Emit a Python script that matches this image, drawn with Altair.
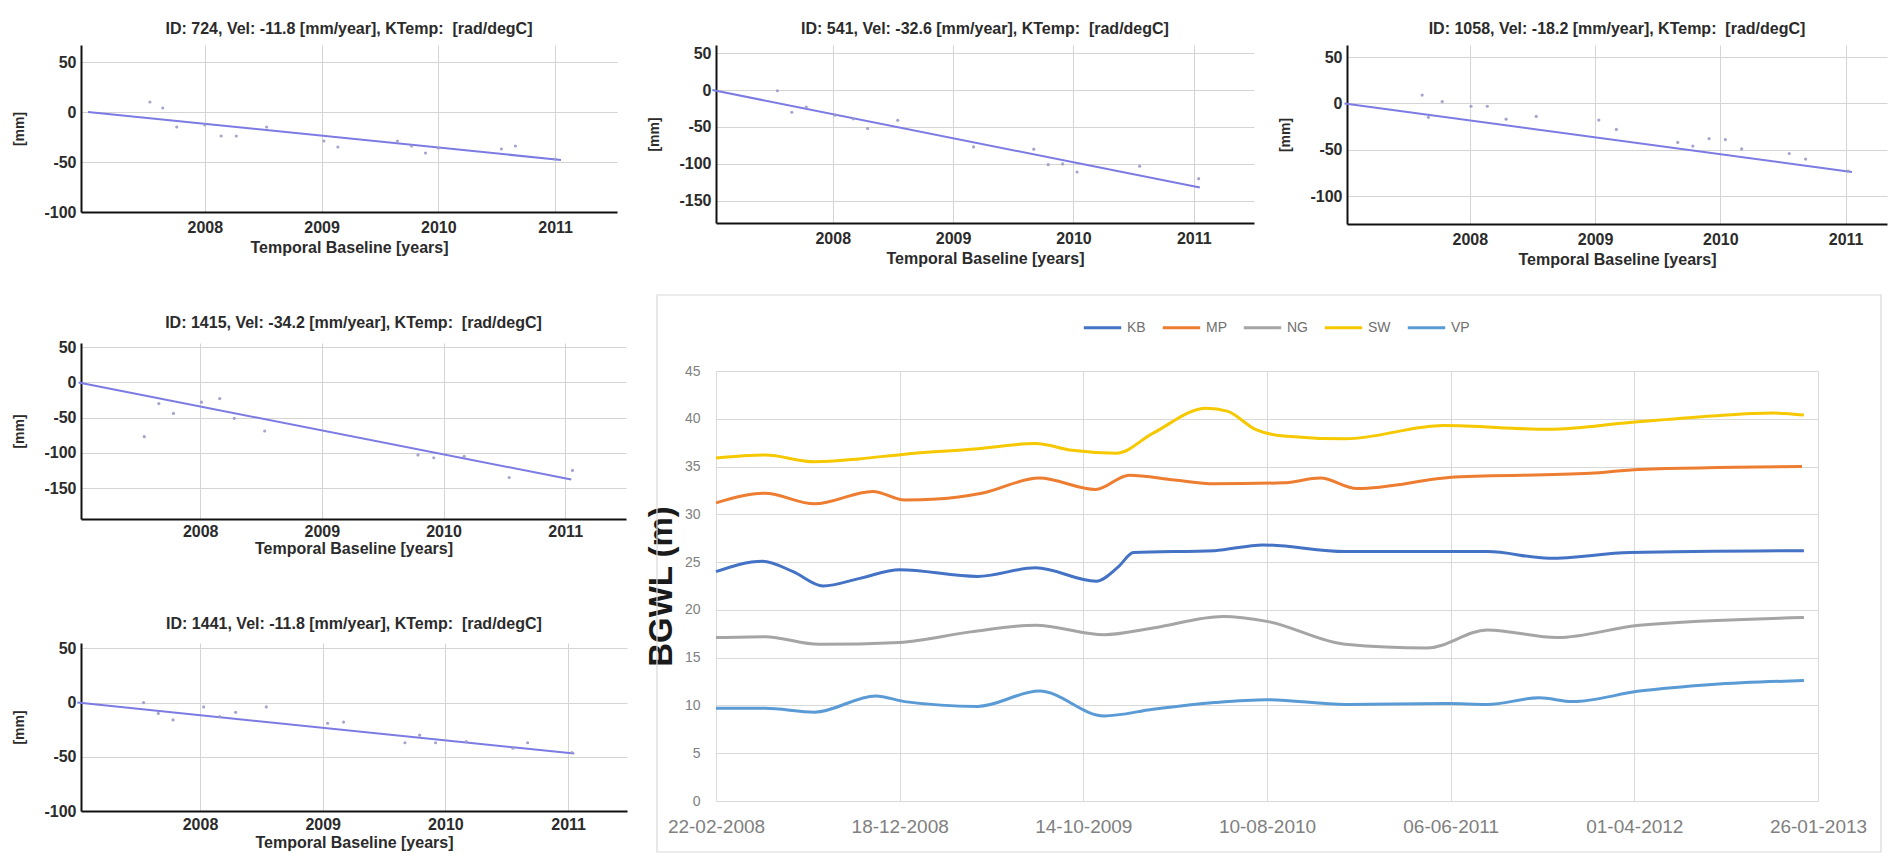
import altair as alt
import pandas as pd

# ---------------- small PS time-series panels ----------------
fit_t = [2007.0, 2011.05]
year_ticks = [2008, 2009, 2010, 2011]

t_724 = [2007.53, 2007.64, 2007.76, 2008.00, 2008.14, 2008.27, 2008.53, 2009.02, 2009.14,
         2009.65, 2009.77, 2009.89, 2010.00, 2010.54, 2010.66, 2011.00]
d_724 = [10, 4, -15, -13, -24, -24, -15, -29, -35, -29, -34, -41, -36, -37, -34, -47]
fit_724 = [0, -48]

t_541 = [2007.54, 2007.66, 2007.78, 2008.02, 2008.17, 2008.29, 2008.54, 2009.17, 2009.67,
         2009.79, 2009.91, 2010.03, 2010.55, 2011.04]
d_541 = [-1, -30, -23, -34, -39, -52, -41, -77, -80, -101, -100, -111, -103, -120]
fit_541 = [0, -132]

t_1058 = [2007.62, 2007.67, 2007.78, 2008.01, 2008.14, 2008.29, 2008.53, 2009.03, 2009.17,
          2009.66, 2009.78, 2009.91, 2010.04, 2010.17, 2010.55, 2010.68, 2011.02]
d_1058 = [9, -15, 2, -3, -3, -17, -14, -18, -28, -42, -46, -38, -39, -49, -54, -60, -73]
fit_1058 = [0, -74]

t_1415 = [2007.54, 2007.66, 2007.78, 2008.01, 2008.16, 2008.28, 2008.53, 2009.79, 2009.92,
          2010.17, 2010.54, 2011.06]
d_1415 = [-77, -30, -44, -28, -23, -51, -69, -103, -107, -105, -135, -125]
fit_1415 = [0, -138]

t_1441 = [2007.54, 2007.66, 2007.78, 2008.03, 2008.16, 2008.29, 2008.54, 2009.04, 2009.17,
          2009.67, 2009.79, 2009.92, 2010.17, 2010.55, 2010.67, 2011.03]
d_1441 = [0, -10, -16, -4, -13, -9, -4, -19, -18, -37, -30, -37, -36, -42, -37, -46]
fit_1441 = [0, -47]

# ---------------- BGWL panel ----------------
wells = ["KB", "MP", "NG", "SW", "VP"]
well_colors = ["#4472C4", "#ED7D31", "#A5A5A5", "#F5C800", "#5B9BD5"]
date_ticks = ["2008-02-22", "2008-12-18", "2009-10-14", "2010-08-10",
              "2011-06-06", "2012-04-01", "2013-01-26"]

kb_dates = ["2008-02-22", "2008-05-08", "2008-06-27", "2008-08-15", "2008-10-14", "2008-12-18",
            "2009-04-24", "2009-07-28", "2009-11-04", "2009-12-10", "2010-01-04", "2010-05-16",
            "2010-08-03", "2010-12-16", "2011-08-05", "2011-11-14", "2012-03-25", "2013-01-03"]
kb_vals = [24.0, 25.1, 24.0, 22.5, 23.3, 24.2, 23.5, 24.4, 23.0, 24.5, 26.0, 26.2,
           26.8, 26.1, 26.1, 25.4, 26.0, 26.2]

mp_dates = ["2008-02-22", "2008-05-12", "2008-08-01", "2008-11-04", "2008-12-26", "2009-02-17",
            "2009-05-01", "2009-08-03", "2009-11-03", "2009-12-28", "2010-03-12", "2010-05-16",
            "2010-09-06", "2010-11-05", "2011-01-04", "2011-06-13", "2012-01-20", "2012-04-09",
            "2012-12-31"]
mp_vals = [31.2, 32.2, 31.1, 32.4, 31.5, 31.6, 32.2, 33.8, 32.6, 34.1, 33.6, 33.2,
           33.3, 33.8, 32.7, 33.9, 34.3, 34.7, 35.0]

ng_dates = ["2008-02-22", "2008-05-12", "2008-08-08", "2008-12-18", "2009-04-13", "2009-07-28",
            "2009-11-17", "2010-02-05", "2010-05-30", "2010-08-10", "2010-12-16", "2011-04-28",
            "2011-08-05", "2011-11-27", "2012-04-09", "2013-01-03"]
ng_vals = [17.1, 17.2, 16.4, 16.6, 17.7, 18.4, 17.4, 18.1, 19.3, 18.8, 16.4, 16.0,
           17.9, 17.1, 18.4, 19.2]

sw_dates = ["2008-02-22", "2008-05-12", "2008-08-01", "2008-10-13", "2008-12-26", "2009-04-13",
            "2009-07-28", "2009-09-26", "2009-12-07", "2010-02-05", "2010-05-03", "2010-06-06",
            "2010-07-22", "2010-09-06", "2010-12-16", "2011-05-25", "2011-11-14", "2012-03-25",
            "2012-08-06", "2012-11-14", "2013-01-03"]
sw_vals = [35.9, 36.2, 35.5, 35.8, 36.3, 36.8, 37.4, 36.7, 36.4, 38.5, 41.1, 40.8,
           38.9, 38.2, 37.9, 39.3, 38.9, 39.6, 40.3, 40.6, 40.4]

vp_dates = ["2008-02-22", "2008-05-12", "2008-08-01", "2008-11-09", "2008-12-26", "2009-04-24",
            "2009-08-03", "2009-11-17", "2010-02-05", "2010-05-16", "2010-08-10", "2010-12-16",
            "2011-05-31", "2011-08-05", "2011-10-29", "2011-12-22", "2012-04-09", "2012-08-06",
            "2013-01-03"]
vp_vals = [9.7, 9.7, 9.3, 11.0, 10.4, 9.9, 11.5, 8.9, 9.6, 10.3, 10.6, 10.1,
           10.2, 10.1, 10.8, 10.4, 11.5, 12.2, 12.6]

TXT = "#2b2b2b"


def small_panel(title, t, d, fit, xdom, ydom, yvals, width, height, lab_pad=7, tit_pad=4):
    pts = pd.DataFrame({"t": t, "d": d})
    fit_df = pd.DataFrame({"t": fit_t, "d": fit})
    x = alt.X("t:Q", scale=alt.Scale(domain=xdom, nice=False, zero=False),
              axis=alt.Axis(values=year_ticks, format="d", title="Temporal Baseline [years]",
                            labelFontSize=16, labelFontWeight="bold", labelColor=TXT,
                            labelPadding=lab_pad, titleFontSize=16, titleFontWeight="bold",
                            titleColor=TXT, titlePadding=tit_pad, ticks=False,
                            domainColor="#111111", domainWidth=2, gridColor="#d4d4d4",
                            labelFlush=False))
    y = alt.Y("d:Q", scale=alt.Scale(domain=ydom, nice=False, zero=False),
              axis=alt.Axis(values=yvals, title="[mm]", labelFontSize=16, labelFontWeight="bold",
                            labelExpr="'' + datum.value",
                            labelColor=TXT, labelPadding=5, titleFontSize=14,
                            titleFontWeight="bold", titleColor=TXT, titlePadding=18,
                            minExtent=37, maxExtent=37, ticks=False, domainColor="#111111",
                            domainWidth=2, gridColor="#d4d4d4", labelFlush=False))
    line = alt.Chart(fit_df).mark_line(color="#7b7be3", strokeWidth=2).encode(x=x, y=y)
    dots = alt.Chart(pts).mark_point(shape="circle", filled=True, size=10,
                                     color="#9a9ac8", opacity=0.9).encode(x=x, y=y)
    return alt.layer(line, dots).properties(
        width=width, height=height,
        title=alt.TitleParams(text=title, fontSize=16, fontWeight="bold", color=TXT, offset=8))


KT = "KTemp:\u00a0 [rad/degC]"
c1 = small_panel(f"ID: 724, Vel: -11.8 [mm/year], {KT}", t_724, d_724, fit_724,
                 [2006.94, 2011.53], [-100, 67], [-100, -50, 0, 50], 536, 167)
c4 = small_panel(f"ID: 1415, Vel: -34.2 [mm/year], {KT}", t_1415, d_1415, fit_1415,
                 [2007.02, 2011.50], [-194, 56], [-150, -100, -50, 0, 50], 545, 176,
                 lab_pad=4, tit_pad=1)
c5 = small_panel(f"ID: 1441, Vel: -11.8 [mm/year], {KT}", t_1441, d_1441, fit_1441,
                 [2007.03, 2011.48], [-100, 55], [-100, -50, 0, 50], 546, 168,
                 lab_pad=5, tit_pad=2)
c2 = small_panel(f"ID: 541, Vel: -32.6 [mm/year], {KT}", t_541, d_541, fit_541,
                 [2007.03, 2011.50], [-180, 61], [-150, -100, -50, 0, 50], 538, 178)
c3 = small_panel(f"ID: 1058, Vel: -18.2 [mm/year], {KT}", t_1058, d_1058, fit_1058,
                 [2007.02, 2011.33], [-130, 63], [-100, -50, 0, 50], 540, 179)

# big chart
rows = []
for name, ds, vs in [("KB", kb_dates, kb_vals), ("MP", mp_dates, mp_vals),
                     ("NG", ng_dates, ng_vals), ("SW", sw_dates, sw_vals),
                     ("VP", vp_dates, vp_vals)]:
    for dt_s, v in zip(ds, vs):
        rows.append({"date": dt_s, "bgwl": v, "well": name})
bg = pd.DataFrame(rows)


def dt(s):
    y, m, d = (int(p) for p in s.split("-"))
    return alt.DateTime(year=y, month=m, date=d, utc=True)


lines = alt.Chart(bg).mark_line(interpolate="monotone", strokeWidth=3).encode(
    x=alt.X("date:T",
            scale=alt.Scale(type="utc", domain=[dt(date_ticks[0]), dt(date_ticks[-1])]),
            axis=alt.Axis(values=[dt(s) for s in date_ticks], format="%d-%m-%Y", title=None,
                          labelFontSize=19, labelColor="#808080", labelPadding=16,
                          ticks=False, domain=False, gridColor="#d9d9d9",
                          labelOverlap=False, labelFlush=False)),
    y=alt.Y("bgwl:Q", scale=alt.Scale(domain=[0, 45], nice=False),
            axis=alt.Axis(values=list(range(0, 50, 5)), title="BGWL (m)",
                          labelFontSize=14, labelColor="#808080", labelPadding=16,
                          ticks=False, domain=False, gridColor="#d9d9d9",
                          titleFontSize=33, titleFontWeight="bold", titleColor="#1a1a1a",
                          titlePadding=6, minExtent=32, maxExtent=32)),
    color=alt.Color("well:N", scale=alt.Scale(domain=wells, range=well_colors),
                    legend=alt.Legend(orient="none", legendX=366, legendY=-64,
                                      direction="horizontal", title=None,
                                      symbolType="stroke", symbolSize=1400,
                                      symbolStrokeWidth=3, labelFontSize=14,
                                      labelColor="#707070", columnPadding=10,
                                      labelOffset=4, padding=0)),
)

frame = alt.Chart(alt.Data(values=[{"k": 1}])).mark_rect(
    fill="white", fillOpacity=0, stroke="#d9d9d9", strokeWidth=1.2).encode(
    x=alt.value(-59), x2=alt.value(1165), y=alt.value(-76), y2=alt.value(481))

big = alt.layer(frame, lines).properties(width=1102, height=430)
big_box = alt.vconcat(big).resolve_scale(color="independent").resolve_legend(color="independent")

left_col = alt.vconcat(c1, c4, c5, spacing=58)
right_top = alt.hconcat(c2, c3, spacing=22)
right_col = alt.vconcat(right_top, big_box, spacing=25).resolve_scale(
    color="independent").resolve_legend(color="independent")

chart = alt.hconcat(left_col, right_col, spacing=16).resolve_scale(
    color="independent").resolve_legend(color="independent").properties(
    padding={"left": 3, "top": 12, "right": 0, "bottom": 0}
).configure(font="Liberation Sans").configure_view(stroke="transparent")

chart.save("out.html", embed_options={"renderer": "svg", "actions": False})
